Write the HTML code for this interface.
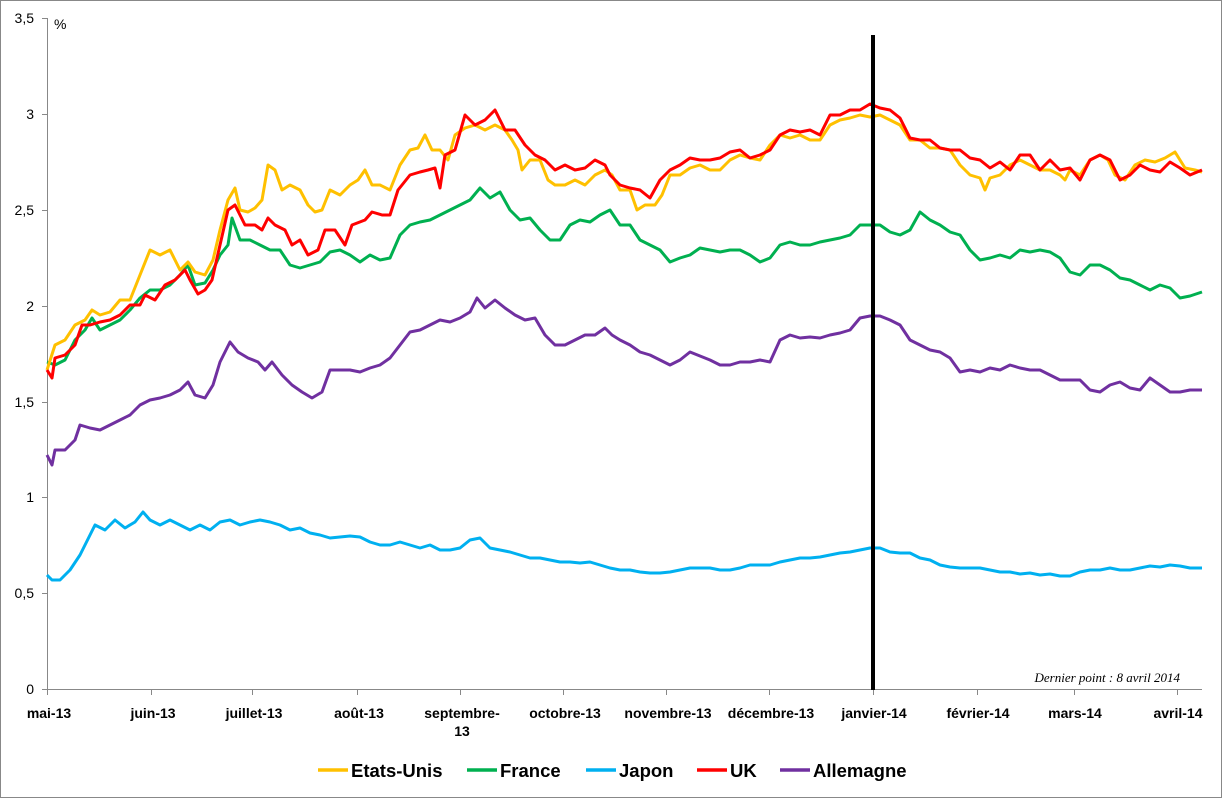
<!DOCTYPE html>
<html><head><meta charset="utf-8"><style>
html,body{margin:0;padding:0;background:#fff;}
svg{display:block;font-family:"Liberation Sans",Arial,sans-serif;}
</style></head><body>
<svg width="1222" height="799" viewBox="0 0 1222 799" xmlns="http://www.w3.org/2000/svg">
<rect x="0.5" y="0.5" width="1221" height="797" fill="#fff" stroke="#888" stroke-width="1"/>
<g stroke="#888" stroke-width="1" fill="none">
<line x1="47.5" y1="18" x2="47.5" y2="689"/>
<line x1="42" y1="689.5" x2="1202" y2="689.5"/>
<line x1="42" y1="18.5" x2="47" y2="18.5"/><line x1="42" y1="114.5" x2="47" y2="114.5"/><line x1="42" y1="210.5" x2="47" y2="210.5"/><line x1="42" y1="306.5" x2="47" y2="306.5"/><line x1="42" y1="402.5" x2="47" y2="402.5"/><line x1="42" y1="497.5" x2="47" y2="497.5"/><line x1="42" y1="593.5" x2="47" y2="593.5"/>
<line x1="47.5" y1="689" x2="47.5" y2="695"/><line x1="151.5" y1="689" x2="151.5" y2="695"/><line x1="252.5" y1="689" x2="252.5" y2="695"/><line x1="357.5" y1="689" x2="357.5" y2="695"/><line x1="460.5" y1="689" x2="460.5" y2="695"/><line x1="563.5" y1="689" x2="563.5" y2="695"/><line x1="666.5" y1="689" x2="666.5" y2="695"/><line x1="769.5" y1="689" x2="769.5" y2="695"/><line x1="873.5" y1="689" x2="873.5" y2="695"/><line x1="977.5" y1="689" x2="977.5" y2="695"/><line x1="1074.5" y1="689" x2="1074.5" y2="695"/><line x1="1177.5" y1="689" x2="1177.5" y2="695"/>
</g>
<g font-size="14" fill="#000" text-anchor="end">
<text x="34" y="23">3,5</text><text x="34" y="119">3</text><text x="34" y="215">2,5</text><text x="34" y="311">2</text><text x="34" y="407">1,5</text><text x="34" y="502">1</text><text x="34" y="598">0,5</text><text x="34" y="694">0</text>
</g>
<text x="54" y="29" font-size="14">%</text>
<g font-size="14" font-weight="bold" text-anchor="middle" fill="#000">
<text x="49" y="718">mai-13</text><text x="153" y="718">juin-13</text><text x="254" y="718">juillet-13</text><text x="359" y="718">août-13</text><text x="462" y="718">septembre-</text><text x="462" y="736">13</text><text x="565" y="718">octobre-13</text><text x="668" y="718">novembre-13</text><text x="771" y="718">décembre-13</text><text x="874" y="718">janvier-14</text><text x="978" y="718">février-14</text><text x="1075" y="718">mars-14</text><text x="1178" y="718">avril-14</text>
</g>
<text x="1180" y="682" font-size="13" font-style="italic" text-anchor="end" font-family="Liberation Serif,serif">Dernier point : 8 avril 2014</text>
<g fill="none" stroke-width="3" stroke-linejoin="round">
<polyline stroke="#00B0F0" points="47,575 52,580 60,580 70,570 80,555 90,535 95,525 105,530 115,520 125,528 135,522 143,512 150,520 160,525 170,520 180,525 190,530 200,525 210,530 220,522 230,520 240,525 250,522 260,520 270,522 280,525 290,530 300,528 310,533 320,535 330,538 340,537 350,536 360,537 370,542 380,545 390,545 400,542 410,545 420,548 430,545 440,550 450,550 460,548 470,540 480,538 490,548 500,550 510,552 520,555 530,558 540,558 550,560 560,562 570,562 580,563 590,562 600,565 610,568 620,570 630,570 640,572 650,573 660,573 670,572 680,570 690,568 700,568 710,568 720,570 730,570 740,568 750,565 760,565 770,565 780,562 790,560 800,558 810,558 820,557 830,555 840,553 850,552 860,550 870,548 880,548 890,552 900,553 910,553 920,558 930,560 940,565 950,567 960,568 970,568 980,568 990,570 1000,572 1010,572 1020,574 1030,573 1040,575 1050,574 1060,576 1070,576 1080,572 1090,570 1100,570 1110,568 1120,570 1130,570 1140,568 1150,566 1160,567 1170,565 1180,566 1190,568 1202,568"/>
<polyline stroke="#7030A0" points="47,455 52,465 55,450 65,450 75,440 80,425 90,428 100,430 110,425 120,420 130,415 140,405 150,400 160,398 170,395 180,390 188,382 195,395 205,398 213,385 220,362 230,342 238,352 248,358 258,362 265,370 272,362 282,375 292,385 302,392 312,398 322,392 330,370 340,370 350,370 360,372 370,368 380,365 390,358 400,345 410,332 420,330 430,325 440,320 450,322 460,318 470,312 477,298 485,308 495,300 505,308 515,315 525,320 535,318 545,335 555,345 565,345 575,340 585,335 595,335 605,328 612,335 620,340 630,345 640,352 650,355 660,360 670,365 680,360 690,352 700,356 710,360 720,365 730,365 740,362 750,362 760,360 770,362 780,340 790,335 800,338 810,337 820,338 830,335 840,333 850,330 860,318 870,316 880,316 890,320 900,325 910,340 920,345 930,350 940,352 950,358 960,372 970,370 980,372 990,368 1000,370 1010,365 1020,368 1030,370 1040,370 1050,375 1060,380 1070,380 1080,380 1090,390 1100,392 1110,385 1120,382 1130,388 1140,390 1150,378 1160,385 1170,392 1180,392 1190,390 1202,390"/>
<polyline stroke="#00B050" points="47,362 55,365 65,360 75,340 85,330 92,318 100,330 110,325 120,320 130,310 140,298 150,290 160,290 170,285 180,275 188,265 195,285 205,283 213,270 220,255 228,245 232,218 240,240 250,240 260,245 270,250 280,250 290,265 300,268 310,265 320,262 330,252 340,250 350,255 360,262 370,255 380,260 390,258 400,235 410,225 420,222 430,220 440,215 450,210 460,205 470,200 480,188 490,198 500,192 510,210 520,220 530,218 540,230 550,240 560,240 570,225 580,220 590,222 600,215 610,210 620,225 630,225 640,240 650,245 660,250 670,262 680,258 690,255 700,248 710,250 720,252 730,250 740,250 750,255 760,262 770,258 780,245 790,242 800,245 810,245 820,242 830,240 840,238 850,235 860,225 870,225 880,225 890,232 900,235 910,230 920,212 930,220 940,225 950,232 960,235 970,250 980,260 990,258 1000,255 1010,258 1020,250 1030,252 1040,250 1050,252 1060,258 1070,272 1080,275 1090,265 1100,265 1110,270 1120,278 1130,280 1140,285 1150,290 1160,285 1170,288 1180,298 1190,296 1202,292"/>
<polyline stroke="#FFC000" points="47,370 55,345 65,340 75,325 85,320 92,310 100,315 110,312 120,300 130,300 140,275 150,250 160,255 170,250 180,270 188,262 195,272 205,275 213,260 220,230 228,200 235,188 240,210 248,212 255,208 262,200 268,165 275,170 282,190 290,185 300,190 308,205 315,212 322,210 330,190 340,195 350,185 358,180 365,170 372,185 380,185 390,190 400,165 410,150 418,148 425,135 432,150 440,150 448,160 455,135 465,128 475,125 485,130 495,125 505,130 512,140 518,150 522,170 530,160 540,160 548,180 555,185 565,185 575,180 585,185 595,175 605,170 612,175 620,190 630,190 637,210 645,205 655,205 662,195 670,175 680,175 690,168 700,165 710,170 720,170 730,160 740,155 750,158 760,160 770,145 780,135 790,138 800,135 810,140 820,140 830,125 840,120 850,118 860,115 870,117 880,115 890,120 900,125 910,140 920,140 930,148 940,148 950,150 960,165 970,175 980,178 985,190 990,178 1000,175 1010,165 1020,160 1030,165 1040,170 1050,170 1060,175 1065,180 1070,170 1080,175 1090,160 1100,155 1108,160 1115,175 1125,180 1135,165 1145,160 1155,162 1165,158 1175,152 1185,168 1195,170 1202,172"/>
<polyline stroke="#FF0000" points="47,370 52,378 55,358 65,355 75,345 82,325 90,325 100,322 110,320 120,315 130,305 140,305 145,295 155,300 165,285 175,280 185,270 190,280 198,294 205,290 212,280 220,245 228,210 235,205 245,225 255,225 262,230 268,218 275,225 285,230 292,245 300,240 308,255 318,250 325,230 335,230 345,245 352,225 365,220 372,212 382,215 390,215 398,190 410,175 420,172 428,170 435,168 440,188 445,155 455,150 465,115 475,125 485,120 495,110 505,130 515,130 525,145 535,155 545,160 555,170 565,165 575,170 585,168 595,160 605,165 610,175 620,185 630,188 640,190 650,198 660,180 670,170 680,165 690,158 700,160 710,160 720,158 730,152 740,150 750,158 760,155 770,150 780,135 790,130 800,132 810,130 820,135 830,115 840,115 850,110 860,110 870,104 880,108 890,110 900,118 910,138 920,140 930,140 940,148 950,150 960,150 970,158 980,160 990,168 1000,162 1010,170 1020,155 1030,155 1040,170 1050,160 1060,170 1070,168 1080,180 1090,160 1100,155 1110,160 1120,180 1130,175 1140,165 1150,170 1160,172 1170,162 1180,168 1190,175 1202,170"/>
</g>
<line x1="873" y1="35" x2="873" y2="690" stroke="#000" stroke-width="4"/>
<g stroke-width="3.5">
<line x1="318" y1="770" x2="348" y2="770" stroke="#FFC000"/>
<line x1="467" y1="770" x2="497" y2="770" stroke="#00B050"/>
<line x1="586" y1="770" x2="616" y2="770" stroke="#00B0F0"/>
<line x1="697" y1="770" x2="727" y2="770" stroke="#FF0000"/>
<line x1="780" y1="770" x2="810" y2="770" stroke="#7030A0"/>
</g>
<g font-size="18.5" font-weight="bold" fill="#000">
<text x="351" y="777">Etats-Unis</text>
<text x="500" y="777">France</text>
<text x="619" y="777">Japon</text>
<text x="730" y="777">UK</text>
<text x="813" y="777">Allemagne</text>
</g>
</svg>
</body></html>
